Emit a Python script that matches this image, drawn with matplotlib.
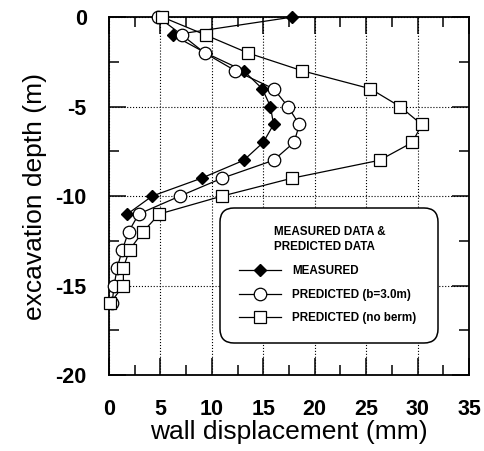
import numpy as np
import matplotlib.pyplot as plt
from matplotlib.ticker import MultipleLocator

plt.rcParams['font.family'] = ['Liberation Sans', 'DejaVu Sans']
plt.rcParams['axes.unicode_minus'] = False

# measured wall displacement
meas_x = [17.8, 6.2, 9.4, 13.1, 14.9, 15.7, 16.0, 15.0, 13.1, 9.0, 4.2, 1.8]
meas_y = [0, -1, -2, -3, -4, -5, -6, -7, -8, -9, -10, -11]

# predicted, berm b=3.0m
b3_x = [4.8, 7.1, 9.3, 12.3, 16.0, 17.4, 18.5, 18.0, 16.0, 11.0, 6.9, 2.9,
        1.9, 1.3, 0.8, 0.5, 0.3]
b3_y = [0, -1, -2, -3, -4, -5, -6, -7, -8, -9, -10, -11, -12, -13, -14, -15, -16]

# predicted, no berm
nb_x = [5.2, 9.4, 13.5, 18.8, 25.4, 28.3, 30.4, 29.5, 26.3, 17.8, 11.0, 4.9,
        3.3, 2.0, 1.4, 1.4, 0.1]
nb_y = [0, -1, -2, -3, -4, -5, -6, -7, -8, -9, -10, -11, -12, -13, -14, -15, -16]

fig = plt.figure(figsize=(4.85, 4.51), dpi=100)
ax = fig.add_axes([0.2247, 0.1685, 0.7423, 0.7935])

ax.plot(meas_x, meas_y, 'k-', lw=0.9, marker='D', ms=6.5, mfc='black',
        mec='black', label='MEASURED', clip_on=False, zorder=3)
ax.plot(b3_x, b3_y, 'k-', lw=0.9, marker='o', ms=9, mfc='white',
        mec='black', mew=0.9, label='PREDICTED (b=3.0m)', clip_on=False, zorder=3)
ax.plot(nb_x, nb_y, 'k-', lw=0.9, marker='s', ms=8.5, mfc='white',
        mec='black', mew=0.9, label='PREDICTED (no berm)', clip_on=False, zorder=3)

ax.set_xlim(0, 35)
ax.set_ylim(-20, 0)
ax.xaxis.set_major_locator(MultipleLocator(5))
ax.xaxis.set_minor_locator(MultipleLocator(2.5))
ax.yaxis.set_major_locator(MultipleLocator(5))
ax.yaxis.set_minor_locator(MultipleLocator(2.5))
ax.tick_params(which='both', direction='in', top=True, right=True, width=1.1)
ax.tick_params(which='major', length=12, labelsize=15.5)
ax.tick_params(axis='x', which='major', pad=17)
ax.tick_params(axis='y', which='major', pad=16)
ax.tick_params(which='minor', length=7)
for lab in ax.get_xticklabels() + ax.get_yticklabels():
    lab.set_fontweight('bold')
ax.grid(True, which='major', ls=':', color='black', lw=0.8)
for s in ax.spines.values():
    s.set_linewidth(1.3)

ax.set_xlabel('wall displacement (mm)', fontsize=19, labelpad=0)
ax.set_ylabel('excavation depth (m)', fontsize=19, labelpad=6)

leg = ax.legend(loc='lower left', bbox_to_anchor=(0.30, 0.081, 0.625, 0.377),
                mode='expand', title='MEASURED DATA &\nPREDICTED DATA',
                fancybox=True, framealpha=1, edgecolor='black',
                handlelength=3.6, labelspacing=1.0, borderpad=1.35,
                handletextpad=1.0, prop={'size': 8.4, 'weight': 'bold'})
leg.get_title().set_fontsize(8.4)
leg.get_title().set_fontweight('bold')
leg.get_title().set_linespacing(1.4)
leg.get_frame().set_linewidth(1.1)
leg.get_frame().set_boxstyle('round,pad=0.2,rounding_size=1.2')

fig.savefig('out.png', dpi=100)
